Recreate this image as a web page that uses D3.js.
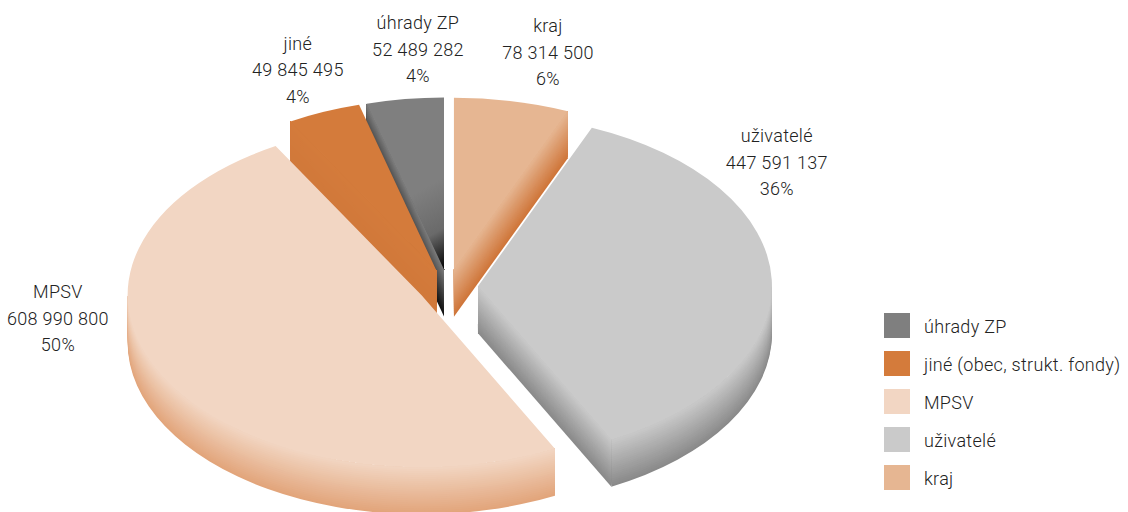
<!DOCTYPE html>
<html>
<head>
<meta charset="utf-8">
<script src="https://cdn.jsdelivr.net/npm/d3@7"></script>
<style>
  body { margin: 0; background: #fff; }
  text { font-family: Roboto, "Liberation Sans", sans-serif; font-weight: 300; fill: #222; letter-spacing: 0.3px; }
</style>
</head>
<body>
<div id="container"></div>
<script>
/* DATA */
const names = ["úhrady ZP", "jiné (obec, strukt. fondy)", "MPSV", "uživatelé", "kraj"]
const labelNames = ["úhrady ZP", "jiné", "MPSV", "uživatelé", "kraj"]
const values = [52489282, 49845495, 608990800, 447591137, 78314500]
const percents = ["4%", "4%", "50%", "36%", "6%"]

/* STYLE */
const colors = ["#7f7f7f", "#d47b3b", "#f2d6c3", "#cacaca", "#e6b692"]
const wallDark = ["#111111", "#d0783a", "#e2a57b", "#8a8a8a", "#cf763a"]

/* CONSTANTS AND GLOBALS */
const width = 1128, height = 512
const cx = 448, cy = 287, rx = 294, ry = 172, depth = 47, explode = 30
// label offsets from the slice rim point at its mid angle
const labelOffset = [[13, -50], [-26, -42], [-105, -59], [5, -118], [36, -49]]

const fmt = d3.formatLocale({ decimal: ",", thousands: " ", grouping: [3], currency: ["", ""] }).format(",d")

const svg = d3.select("#container")
  .append("svg")
  .attr("width", width)
  .attr("height", height)

const defs = svg.append("defs")

// angles: clockwise from 12 o'clock, data running counter-clockwise
const pie = d3.pie().sort(null)
const slices = pie(values).map((d, i) => {
  const a0 = 2 * Math.PI - d.endAngle, a1 = 2 * Math.PI - d.startAngle
  const m = (a0 + a1) / 2
  return {
    i, a0, a1, m,
    ox: cx + explode * Math.sin(m),
    oy: cy - explode * Math.cos(m) * ry / rx
  }
})

const rim = (s, a, dz = 0) => [s.ox + rx * Math.sin(a), s.oy - ry * Math.cos(a) + dz]

function facePath(s) {
  const p0 = rim(s, s.a0), p1 = rim(s, s.a1)
  const large = s.a1 - s.a0 > Math.PI ? 1 : 0
  return `M${s.ox},${s.oy}L${p0}A${rx},${ry} 0 ${large} 1 ${p1}Z`
}

function outerWall(s, a, b, d) {
  const p0 = rim(s, a), p1 = rim(s, b), q1 = rim(s, b, d), q0 = rim(s, a, d)
  const large = b - a > Math.PI ? 1 : 0
  return `M${p0}A${rx},${ry} 0 ${large} 1 ${p1}L${q1}A${rx},${ry} 0 ${large} 0 ${q0}Z`
}

function radialWall(s, a, d) {
  const p = rim(s, a)
  return `M${s.ox},${s.oy}L${p}L${p[0]},${p[1] + d}L${s.ox},${s.oy + d}Z`
}

const layers = d3.range(24, 0, -1).map(k => k / 24)

// draw back slices first
const order = slices.slice().sort((a, b) => Math.cos(b.m) - Math.cos(a.m))

order.forEach(s => {
  const g = svg.append("g").attr("class", "slice")
  const shade = d3.interpolateRgb(colors[s.i], wallDark[s.i])

  // outer curved wall, front half only
  const a = Math.max(s.a0, Math.PI / 2), b = Math.min(s.a1, 3 * Math.PI / 2)
  if (b > a) {
    g.selectAll(null).data(layers).join("path")
      .attr("d", t => outerWall(s, a, b, depth * t))
      .attr("fill", t => shade(t))
  }

  // radial cut walls facing the viewer
  const walls = []
  if (Math.cos(s.a0 - Math.PI / 2) < -0.05) walls.push(s.a0)
  if (Math.cos(s.a1 + Math.PI / 2) < -0.05) walls.push(s.a1)
  walls.forEach(w => {
    g.selectAll(null).data(layers).join("path")
      .attr("d", t => radialWall(s, w, depth * t))
      .attr("fill", t => shade(t))
  })

  // top face
  let fill = colors[s.i]
  if (s.i === 0) {
    defs.append("linearGradient")
      .attr("id", "faceDark")
      .attr("gradientUnits", "userSpaceOnUse")
      .attr("x1", s.ox - 40).attr("y1", s.oy - 70)
      .attr("x2", s.ox).attr("y2", s.oy)
      .call(lg => {
        lg.append("stop").attr("offset", 0).attr("stop-color", colors[0])
        lg.append("stop").attr("offset", 0.55).attr("stop-color", "#6a6a6a")
        lg.append("stop").attr("offset", 1).attr("stop-color", "#000")
      })
    fill = "url(#faceDark)"
  }
  g.append("path")
    .attr("d", facePath(s))
    .attr("fill", fill)
})

// DATA LABELS
const lineH = 26.5
slices.forEach(s => {
  const p = rim(s, s.m)
  const x = p[0] + labelOffset[s.i][0], y = p[1] + labelOffset[s.i][1]
  const t = svg.append("text")
    .attr("text-anchor", "middle")
    .style("font-size", "18px")
  ;[labelNames[s.i], fmt(values[s.i]), percents[s.i]].forEach((line, k) => {
    t.append("tspan")
      .attr("x", x)
      .attr("y", y + (k - 1) * lineH)
      .attr("dominant-baseline", "central")
      .text(line)
  })
})

// LEGEND
const legend = svg.append("g")
  .attr("transform", "translate(884, 313)")

const rows = legend.selectAll("g")
  .data(names)
  .join("g")
  .attr("transform", (d, i) => `translate(0, ${i * 38})`)

rows.append("rect")
  .attr("width", 26)
  .attr("height", 25)
  .attr("fill", (d, i) => colors[i])

rows.append("text")
  .attr("x", 40)
  .attr("y", 13)
  .attr("dominant-baseline", "central")
  .style("font-size", "18px")
  .text(d => d)
</script>
</body>
</html>
